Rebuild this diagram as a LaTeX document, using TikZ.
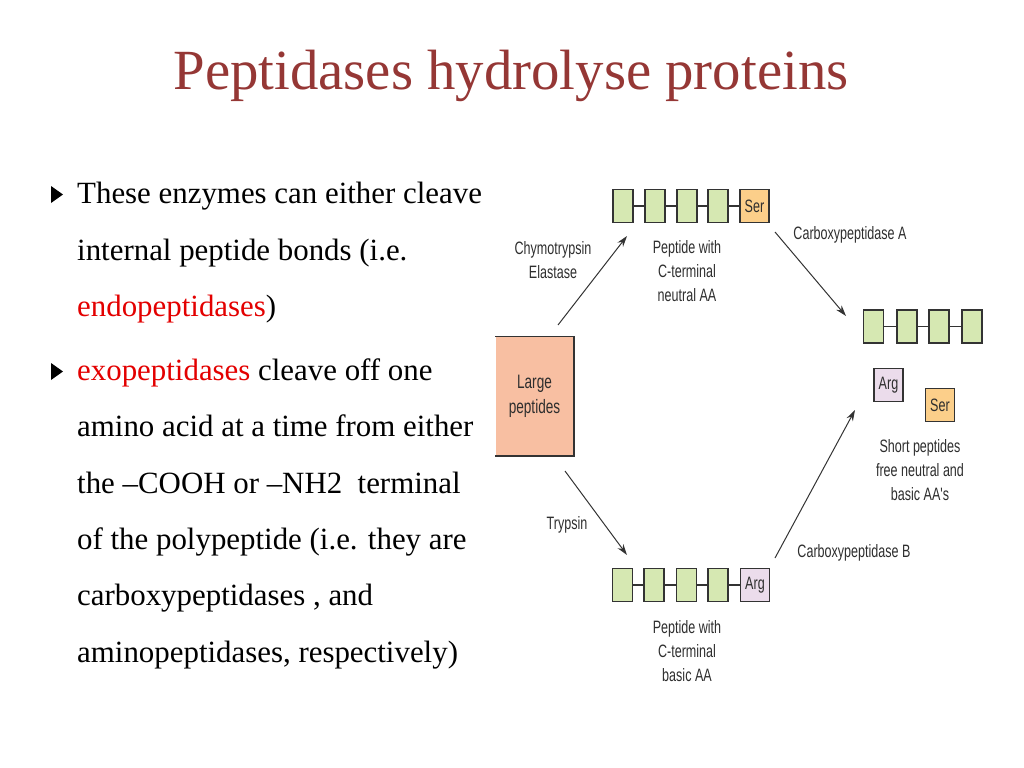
\documentclass[tikz,border=0pt]{standalone}
\usepackage{fontspec}
\setmainfont{Liberation Serif}
\newfontfamily\labelfont[FakeStretch=0.7]{Liberation Sans}
\usetikzlibrary{arrows.meta}
\definecolor{titlered}{HTML}{953735}
\definecolor{keyred}{HTML}{E30000}
\definecolor{linegrey}{HTML}{333333}
\definecolor{labelgrey}{HTML}{2E2E2E}
\definecolor{resgreen}{HTML}{D6E8B2}
\definecolor{serorange}{HTML}{FCCF8A}
\definecolor{argpink}{HTML}{EBDCEB}
\definecolor{largesalmon}{HTML}{F8BFA2}
\begin{document}
\begin{tikzpicture}[x=1bp, y=-1bp,
    every node/.style={inner sep=0pt},
    res/.style={draw=linegrey, line width=1.3bp, fill=resgreen, minimum width=20bp, minimum height=33bp},
    ser/.style={res, fill=serorange, minimum width=29bp, font=\labelfont\fontsize{18}{18}\selectfont, text=labelgrey},
    arg/.style={ser, fill=argpink},
    bond/.style={draw=linegrey, line width=1.2bp},
    lbl/.style={font=\labelfont\fontsize{18}{24.5}\selectfont, text=labelgrey, align=center},
    txt/.style={anchor=base west, font=\fontsize{31}{31}\selectfont},
    enz/.style={draw=linegrey, line width=1bp, -{Stealth[length=11bp,width=7bp]}}]
    \useasboundingbox (0,0) rectangle (1024,768);

    % Title
    \node[font=\fontsize{57}{57}\selectfont, text=titlered] (title) at (511,76) {Peptidases hydrolyse proteins};

    % Bullets
    \fill (51,186) -- (63,194.5) -- (51,203) -- cycle;
    \fill (51,363) -- (63,371.5) -- (51,380) -- cycle;

    % Left text
    \node[txt] (l1) at (77,203) {These enzymes can either cleave};
    \node[txt] (l2) at (77,260) {internal peptide bonds (i.e.};
    \node[txt] (l3) at (77,316) {\textcolor{keyred}{endopeptidases})};
    \node[txt] (l4) at (77,380) {\textcolor{keyred}{exopeptidases} cleave off one};
    \node[txt] (l5) at (77,436) {amino acid at a time from either};
    \node[txt] (l6) at (77,493) {the –COOH or –NH2\ \ terminal};
    \node[txt] (l7) at (77,549) {of the polypeptide (i.e. they are};
    \node[txt] (l8) at (77,605) {carboxypeptidases , and};
    \node[txt] (l9) at (77,662) {aminopeptidases, respectively)};

    % Large peptides
    \node[fill=largesalmon, minimum width=78bp, minimum height=119bp, lbl, font=\labelfont\fontsize{19.5}{25}\selectfont] (large) at (534.5,396) {Large\\peptides};
    \draw[draw=linegrey, line width=1.6bp] (large.north west) -- (large.north east) -- (large.south east) -- (large.south west);

    % Top peptide
    \node[res] (t1) at (623,206) {};
    \node[res] (t2) at (655,206) {};
    \node[res] (t3) at (687,206) {};
    \node[res] (t4) at (718,206) {};
    \node[ser] (t5) at (754.5,206) {Ser};
    \draw[bond] (t1) -- (t2);
    \draw[bond] (t2) -- (t3);
    \draw[bond] (t3) -- (t4);
    \draw[bond] (t4) -- (t5);
    \node[lbl] (toplbl) at (687,271) {Peptide with\\C-terminal\\neutral AA};

    % Bottom peptide
    \node[res] (b1) at (622.5,585) {};
    \node[res] (b2) at (654,585) {};
    \node[res] (b3) at (686.5,585) {};
    \node[res] (b4) at (718,585) {};
    \node[arg] (b5) at (755,585) {Arg};
    \draw[bond] (b1) -- (b2);
    \draw[bond] (b2) -- (b3);
    \draw[bond] (b3) -- (b4);
    \draw[bond] (b4) -- (b5);
    \node[lbl] (botlbl) at (687,651) {Peptide with\\C-terminal\\basic AA};

    % Short peptides
    \node[res] (r1) at (873.5,326.5) {};
    \node[res] (r2) at (907,326.5) {};
    \node[res] (r3) at (939,326.5) {};
    \node[res] (r4) at (972,326.5) {};
    \draw[bond] (r1) -- (r2);
    \draw[bond] (r2) -- (r3);
    \draw[bond] (r3) -- (r4);
    \node[arg] (freearg) at (888.5,385) {Arg};
    \node[ser] (freeser) at (940,405) {Ser};
    \node[lbl] (shortlbl) at (920,470) {Short peptides\\free neutral and\\basic AA's};

    % Enzymes
    \coordinate (chymoS) at (558,325);
    \coordinate (chymoE) at (627,236);
    \coordinate (trypS) at (565,471);
    \coordinate (trypE) at (627,555);
    \coordinate (cpaS) at (775,232);
    \coordinate (cpaE) at (846,316);
    \coordinate (cpbS) at (775,558);
    \coordinate (cpbE) at (855,410);
    \draw[enz] (chymoS) -- (chymoE);
    \draw[enz] (trypS) -- (trypE);
    \draw[enz] (cpaS) -- (cpaE);
    \draw[enz] (cpbS) -- (cpbE);
    \node[lbl] (chymo) at (553,260) {Chymotrypsin\\Elastase};
    \node[lbl] (tryp) at (567,525) {Trypsin};
    \node[lbl] (cpa) at (850,235) {Carboxypeptidase A};
    \node[lbl] (cpb) at (854,553) {Carboxypeptidase B};
\end{tikzpicture}
\end{document}
